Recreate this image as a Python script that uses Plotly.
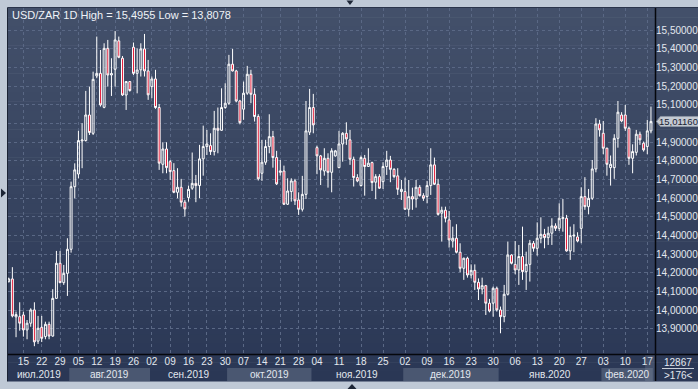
import plotly.graph_objects as go

# ---------------- data (USD/ZAR, daily) ----------------
open_ = [14.153, 14.168, 13.965, 13.966, 13.975, 13.895, 13.931, 14.002, 13.835, 13.909,
         13.859, 13.925, 13.862, 14.064, 14.252, 14.148, 14.198, 14.327, 14.662, 14.730,
         14.907, 14.909, 15.046, 14.948, 15.255, 15.269, 15.087, 15.403, 15.260, 15.291,
         15.443, 15.350, 15.153, 15.225, 15.409, 15.269, 15.288, 15.400, 15.282, 15.198,
         15.239, 15.086, 14.782, 14.864, 14.796, 14.748, 14.632, 14.659, 14.579, 14.604,
         14.654, 14.680, 14.668, 14.811, 14.877, 14.882, 14.850, 14.975, 14.964, 15.086,
         15.109, 15.318, 15.282, 15.121, 15.077, 15.163, 15.264, 15.157, 15.038, 14.734,
         14.793, 14.877, 14.930, 14.818, 14.739, 14.746, 14.568, 14.636, 14.693, 14.591,
         14.541, 14.621, 14.954, 15.086, 14.871, 14.827, 14.746, 14.814, 14.739, 14.827,
         14.764, 14.891, 14.948, 14.913, 14.809, 14.711, 14.668, 14.814, 14.770, 14.791,
         14.686, 14.716, 14.689, 14.770, 14.805, 14.755, 14.720, 14.636, 14.636, 14.541,
         14.609, 14.596, 14.659, 14.614, 14.609, 14.668, 14.779, 14.675, 14.520, 14.536,
         14.484, 14.371, 14.386, 14.311, 14.225, 14.279, 14.189, 14.214, 14.150, 14.114,
         14.132, 14.038, 14.038, 14.118, 14.002, 13.966, 14.086, 14.296, 14.246, 14.216,
         14.288, 14.207, 14.246, 14.359, 14.332, 14.386, 14.407, 14.389, 14.413, 14.452,
         14.439, 14.491, 14.493, 14.318, 14.398, 14.393, 14.439, 14.609, 14.555, 14.600,
         14.757, 14.998, 14.948, 14.868, 14.764, 14.764, 14.921, 15.046, 15.046, 14.975,
         14.814, 14.846, 14.943, 14.895, 14.877, 14.961]
high = [14.175, 14.231, 13.993, 14.043, 13.993, 13.948, 14.011, 14.043, 13.970, 13.970,
        13.939, 13.939, 14.113, 14.318, 14.318, 14.243, 14.386, 14.689, 14.787, 14.961,
        15.002, 15.175, 15.198, 15.278, 15.466, 15.394, 15.430, 15.448, 15.350, 15.4955,
        15.466, 15.362, 15.228, 15.228, 15.434, 15.403, 15.430, 15.480, 15.341, 15.252,
        15.288, 15.104, 14.900, 14.900, 14.805, 14.788, 14.761, 14.704, 14.591, 14.668,
        14.845, 14.725, 14.886, 14.989, 14.966, 14.948, 15.068, 15.086, 15.189, 15.216,
        15.368, 15.400, 15.288, 15.127, 15.225, 15.309, 15.288, 15.189, 15.050, 14.913,
        14.913, 15.050, 14.961, 14.854, 14.805, 14.775, 14.707, 14.707, 14.704, 14.632,
        14.720, 15.121, 15.186, 15.159, 14.882, 14.832, 14.868, 14.841, 14.868, 14.859,
        14.961, 14.954, 15.007, 14.966, 14.823, 14.729, 14.829, 14.832, 14.868, 14.796,
        14.729, 14.729, 14.793, 14.854, 14.827, 14.761, 14.761, 14.698, 14.711, 14.698,
        14.657, 14.698, 14.671, 14.627, 14.693, 14.868, 14.818, 14.704, 14.555, 14.555,
        14.532, 14.448, 14.461, 14.359, 14.282, 14.287, 14.246, 14.246, 14.171, 14.175,
        14.136, 14.061, 14.127, 14.127, 14.020, 14.136, 14.368, 14.300, 14.371, 14.350,
        14.448, 14.314, 14.377, 14.371, 14.471, 14.498, 14.436, 14.448, 14.493, 14.466,
        14.573, 14.596, 14.511, 14.448, 14.461, 14.418, 14.659, 14.713, 14.650, 14.805,
        15.029, 15.020, 15.014, 14.871, 14.829, 14.943, 15.121, 15.061, 15.100, 14.984,
        14.889, 14.966, 14.957, 14.904, 15.020, 15.091]
low = [14.150, 13.962, 13.856, 13.891, 13.859, 13.845, 13.912, 13.8078, 13.820, 13.830,
       13.845, 13.845, 13.859, 14.062, 14.145, 14.136, 14.077, 14.309, 14.600, 14.707,
       14.761, 14.904, 14.939, 14.939, 15.243, 15.091, 15.082, 15.198, 15.148, 15.198,
       15.350, 15.148, 15.073, 15.171, 15.260, 15.162, 15.252, 15.252, 15.127, 15.136,
       15.079, 14.752, 14.734, 14.734, 14.698, 14.627, 14.600, 14.555, 14.502, 14.582,
       14.645, 14.579, 14.600, 14.721, 14.832, 14.832, 14.829, 14.841, 14.961, 15.079,
       15.100, 15.279, 15.114, 14.996, 15.020, 15.154, 15.109, 15.011, 14.695, 14.693,
       14.779, 14.841, 14.764, 14.671, 14.721, 14.564, 14.564, 14.582, 14.564, 14.511,
       14.529, 14.596, 14.939, 14.948, 14.729, 14.671, 14.721, 14.657, 14.632, 14.823,
       14.761, 14.796, 14.886, 14.779, 14.663, 14.686, 14.663, 14.614, 14.770, 14.639,
       14.595, 14.650, 14.650, 14.725, 14.686, 14.707, 14.618, 14.591, 14.538, 14.502,
       14.538, 14.550, 14.609, 14.586, 14.573, 14.618, 14.671, 14.507, 14.368, 14.471,
       14.336, 14.336, 14.305, 14.204, 14.163, 14.175, 14.171, 14.109, 14.055, 14.086,
       13.975, 13.989, 13.966, 13.993, 13.877, 13.936, 14.079, 14.246, 14.193, 14.136,
       14.163, 14.109, 14.154, 14.314, 14.293, 14.359, 14.332, 14.350, 14.350, 14.425,
       14.425, 14.421, 14.314, 14.270, 14.311, 14.364, 14.359, 14.538, 14.514, 14.591,
       14.739, 14.930, 14.836, 14.721, 14.668, 14.704, 14.871, 15.007, 14.961, 14.779,
       14.734, 14.829, 14.886, 14.850, 14.836, 14.948]
close = [14.168, 13.970, 13.977, 13.931, 13.895, 13.931, 14.002, 13.831, 13.904, 13.850,
         13.925, 13.862, 14.064, 14.252, 14.148, 14.198, 14.327, 14.662, 14.752, 14.909,
         14.912, 15.046, 14.952, 15.237, 15.269, 15.100, 15.403, 15.260, 15.268, 15.448,
         15.355, 15.153, 15.225, 15.177, 15.269, 15.287, 15.400, 15.282, 15.154, 15.239,
         15.086, 14.788, 14.864, 14.764, 14.743, 14.632, 14.659, 14.579, 14.543, 14.648,
         14.680, 14.668, 14.811, 14.877, 14.891, 14.850, 14.975, 14.964, 15.086, 15.109,
         15.318, 15.282, 15.121, 15.005, 15.163, 15.264, 15.157, 15.038, 14.704, 14.793,
         14.877, 14.930, 14.818, 14.677, 14.746, 14.568, 14.639, 14.693, 14.586, 14.541,
         14.621, 14.961, 15.086, 14.993, 14.827, 14.752, 14.814, 14.739, 14.854, 14.854,
         14.891, 14.948, 14.918, 14.809, 14.711, 14.693, 14.818, 14.770, 14.788, 14.684,
         14.716, 14.654, 14.770, 14.805, 14.755, 14.716, 14.648, 14.648, 14.541, 14.609,
         14.596, 14.659, 14.614, 14.600, 14.668, 14.779, 14.675, 14.514, 14.536, 14.493,
         14.377, 14.386, 14.311, 14.225, 14.279, 14.189, 14.214, 14.150, 14.114, 14.132,
         14.038, 13.996, 14.118, 14.002, 13.966, 14.086, 14.296, 14.252, 14.216, 14.288,
         14.207, 14.246, 14.359, 14.332, 14.386, 14.407, 14.389, 14.413, 14.452, 14.439,
         14.493, 14.496, 14.318, 14.400, 14.402, 14.371, 14.609, 14.555, 14.600, 14.757,
         14.998, 14.966, 14.868, 14.782, 14.782, 14.921, 15.061, 15.014, 14.975, 14.814,
         14.850, 14.943, 14.913, 14.859, 14.961, 15.0116]
bar_index = list(range(len(close)))

# Monday tick positions (bar index) and labels
tick_idx = [4, 9, 14, 19, 24, 29, 34, 39, 44, 49, 54, 59, 64, 69, 74, 79, 84, 90, 96, 102,
            108, 114, 120, 126, 132, 138, 144, 150, 156, 162, 168, 174]
tick_text = ["15", "22", "29", "05", "12", "19", "26", "02", "09", "16", "23", "30", "07",
             "14", "21", "28", "04", "11", "18", "25", "02", "09", "16", "23", "30", "06",
             "13", "20", "27", "03", "10", "17"]
month_names = ["июл.2019", "авг.2019", "сен.2019", "окт.2019", "ноя.2019", "дек.2019",
               "янв.2020", "фев.2020"]
month_start = [0, 17, 39, 60, 83, 108, 134, 162]

price_ticks = [13.9, 14.0, 14.1, 14.2, 14.3, 14.4, 14.5, 14.6, 14.7, 14.8, 14.9, 15.0,
               15.1, 15.2, 15.3, 15.4, 15.5]
last_price = close[-1]
# the 15,00000 label sits under the current-price marker, so it is not shown
price_tick_text = ["" if abs(v - 15.0) < 1e-9 else f"{v:.5f}".replace(".", ",")
                   for v in price_ticks]

title_text = "USD/ZAR 1D High = 15,4955 Low = 13,8078"
total_bars = "12867"
visible_bars = ">176<"

# ---------------- layout geometry ----------------
W, H = 698, 389
L, R, T, B = 8, 43, 8, 35
PW, PH = W - L - R, H - T - B
X_RANGE = [-0.19, 176.1]
Y_RANGE = [13.766, 15.619]


def xp(px):
    return (px - L) / PW


def yp(py):
    return (H - B - py) / PH


FONT = "Liberation Sans, Arial, sans-serif"
TXT = "#e3e8ef"
GRID = "#5a6885"

fig = go.Figure()
fig.add_trace(go.Candlestick(
    x=bar_index, open=open_, high=high, low=low, close=close,
    increasing=dict(line=dict(color="#ffffff", width=1), fillcolor="rgba(0,0,0,0)"),
    decreasing=dict(line=dict(color="#ffffff", width=1), fillcolor="#e3102f"),
    hoverinfo="skip", showlegend=False,
))

shapes = []
# vertical gradient of the dark panel
top_c = (67, 80, 106)
bot_c = (42, 55, 85)
n = 40
y_top, y_bot = 8, 381
for i in range(n):
    f = (i + 0.5) / n
    c = tuple(int(round(top_c[j] + (bot_c[j] - top_c[j]) * f)) for j in range(3))
    a = y_top + (y_bot - y_top) * i / n
    b = y_top + (y_bot - y_top) * (i + 1) / n
    shapes.append(dict(type="rect", xref="paper", yref="paper", x0=xp(8), x1=xp(698),
                       y0=yp(b + 0.5), y1=yp(a), fillcolor="rgb(%d,%d,%d)" % c,
                       line=dict(width=0), layer="below"))

# alternating month bands on the time scale
month_end = month_start[1:] + [len(close)]
for i, (s, e) in enumerate(zip(month_start, month_end)):
    if i % 2 == 1:
        shapes.append(dict(type="rect", xref="x", yref="paper", x0=s - 0.5, x1=e - 0.5,
                           y0=yp(381), y1=yp(368), fillcolor="#4a5771",
                           line=dict(width=0), layer="below"))
# current-bar column on the time scale
shapes.append(dict(type="rect", xref="x", yref="paper", x0=len(close) - 2.6, x1=X_RANGE[1],
                   y0=yp(381), y1=yp(355), fillcolor="rgba(140,150,170,0.25)",
                   line=dict(width=0), layer="above"))
# frame lines
shapes += [
    dict(type="line", xref="paper", yref="paper", x0=xp(8), x1=xp(698), y0=yp(354.5), y1=yp(354.5),
         line=dict(color="#05070c", width=1.5), layer="above"),
    dict(type="line", xref="paper", yref="paper", x0=xp(655.5), x1=xp(655.5), y0=yp(381), y1=yp(8),
         line=dict(color="#05070c", width=1.5), layer="above"),
    dict(type="line", xref="paper", yref="paper", x0=xp(7.5), x1=xp(7.5), y0=yp(381.5), y1=yp(7.5),
         line=dict(color="#1b2334", width=1), layer="above"),
    dict(type="line", xref="paper", yref="paper", x0=xp(7.5), x1=xp(698), y0=yp(7.5), y1=yp(7.5),
         line=dict(color="#2a344a", width=1), layer="above"),
    dict(type="line", xref="paper", yref="paper", x0=xp(662), x1=xp(694), y0=yp(368.5), y1=yp(368.5),
         line=dict(color="#c9d0da", width=1), layer="above"),
]
# current price marker box
yc = 329 - (last_price - 13.9) * 186.7


def pth(pts):
    return "M " + " L ".join(f"{xp(a):.5f},{yp(b):.5f}" for a, b in pts) + " Z"


shapes.append(dict(type="path", xref="paper", yref="paper",
                   path=pth([(656.5, yc), (660.5, yc - 5), (699, yc - 5), (699, yc + 5), (660.5, yc + 5)]),
                   fillcolor="#c4cad3", line=dict(color="#8e97a6", width=1), layer="above"))
# scroll markers
shapes.append(dict(type="path", xref="paper", yref="paper",
                   path=pth([(346.5, 0.5), (353.5, 0.5), (350, 5)]),
                   fillcolor="#1d2636", line=dict(width=0), layer="above"))
shapes.append(dict(type="path", xref="paper", yref="paper",
                   path=pth([(1, 188.5), (1, 197.5), (6, 193)]),
                   fillcolor="#1d2636", line=dict(width=0), layer="above"))
shapes.append(dict(type="path", xref="paper", yref="paper",
                   path=pth([(347.5, 389), (356.5, 389), (352, 384)]),
                   fillcolor="#1d2636", line=dict(width=0), layer="above"))

annotations = [
    dict(xref="paper", yref="paper", x=xp(10), y=yp(14.5), text=title_text, showarrow=False,
         xanchor="left", yanchor="middle", font=dict(family=FONT, size=11, color="#eef2f7")),
    dict(xref="paper", yref="paper", x=xp(678.5), y=yp(yc), text=f"{last_price:.5f}".replace(".", ","),
         showarrow=False, xanchor="center", yanchor="middle", borderpad=0,
         font=dict(family=FONT, size=9.5, color="#1a2233")),
    dict(xref="paper", yref="paper", x=xp(678), y=yp(362), text=total_bars, showarrow=False,
         xanchor="center", yanchor="middle", font=dict(family=FONT, size=10, color=TXT)),
    dict(xref="paper", yref="paper", x=xp(678), y=yp(375.5), text=visible_bars, showarrow=False,
         xanchor="center", yanchor="middle", font=dict(family=FONT, size=10, color=TXT)),
]
for i, (s, e) in enumerate(zip(month_start, month_end)):
    a = max(s - 0.5, X_RANGE[0])
    b = min(e - 0.5, X_RANGE[1])
    annotations.append(dict(xref="x", yref="paper", x=(a + b) / 2, y=yp(374), text=month_names[i],
                            showarrow=False, xanchor="center", yanchor="middle",
                            font=dict(family=FONT, size=10, color=TXT)))

fig.update_layout(
    width=W, height=H,
    margin=dict(l=L, r=R, t=T, b=B, pad=0, autoexpand=False),
    paper_bgcolor="#bfc9d6",
    plot_bgcolor="rgba(0,0,0,0)",
    boxgap=0.25,
    showlegend=False,
    shapes=shapes,
    annotations=annotations,
    xaxis=dict(range=X_RANGE, rangeslider=dict(visible=False), tickmode="array",
               tickvals=tick_idx, ticktext=tick_text, showgrid=True, gridcolor=GRID,
               griddash="3px,3px", gridwidth=1, zeroline=False, showline=False, ticks="",
               automargin=False,
               tickfont=dict(family=FONT, size=10, color=TXT), fixedrange=True),
    yaxis=dict(range=Y_RANGE, side="right", tickmode="array", tickvals=price_ticks,
               ticktext=price_tick_text, showgrid=True, gridcolor=GRID, griddash="3px,3px",
               gridwidth=1, zeroline=False, showline=False, ticks="", automargin=False,
               tickfont=dict(family=FONT, size=10, color=TXT), fixedrange=True),
)

fig.write_html("out.html")
